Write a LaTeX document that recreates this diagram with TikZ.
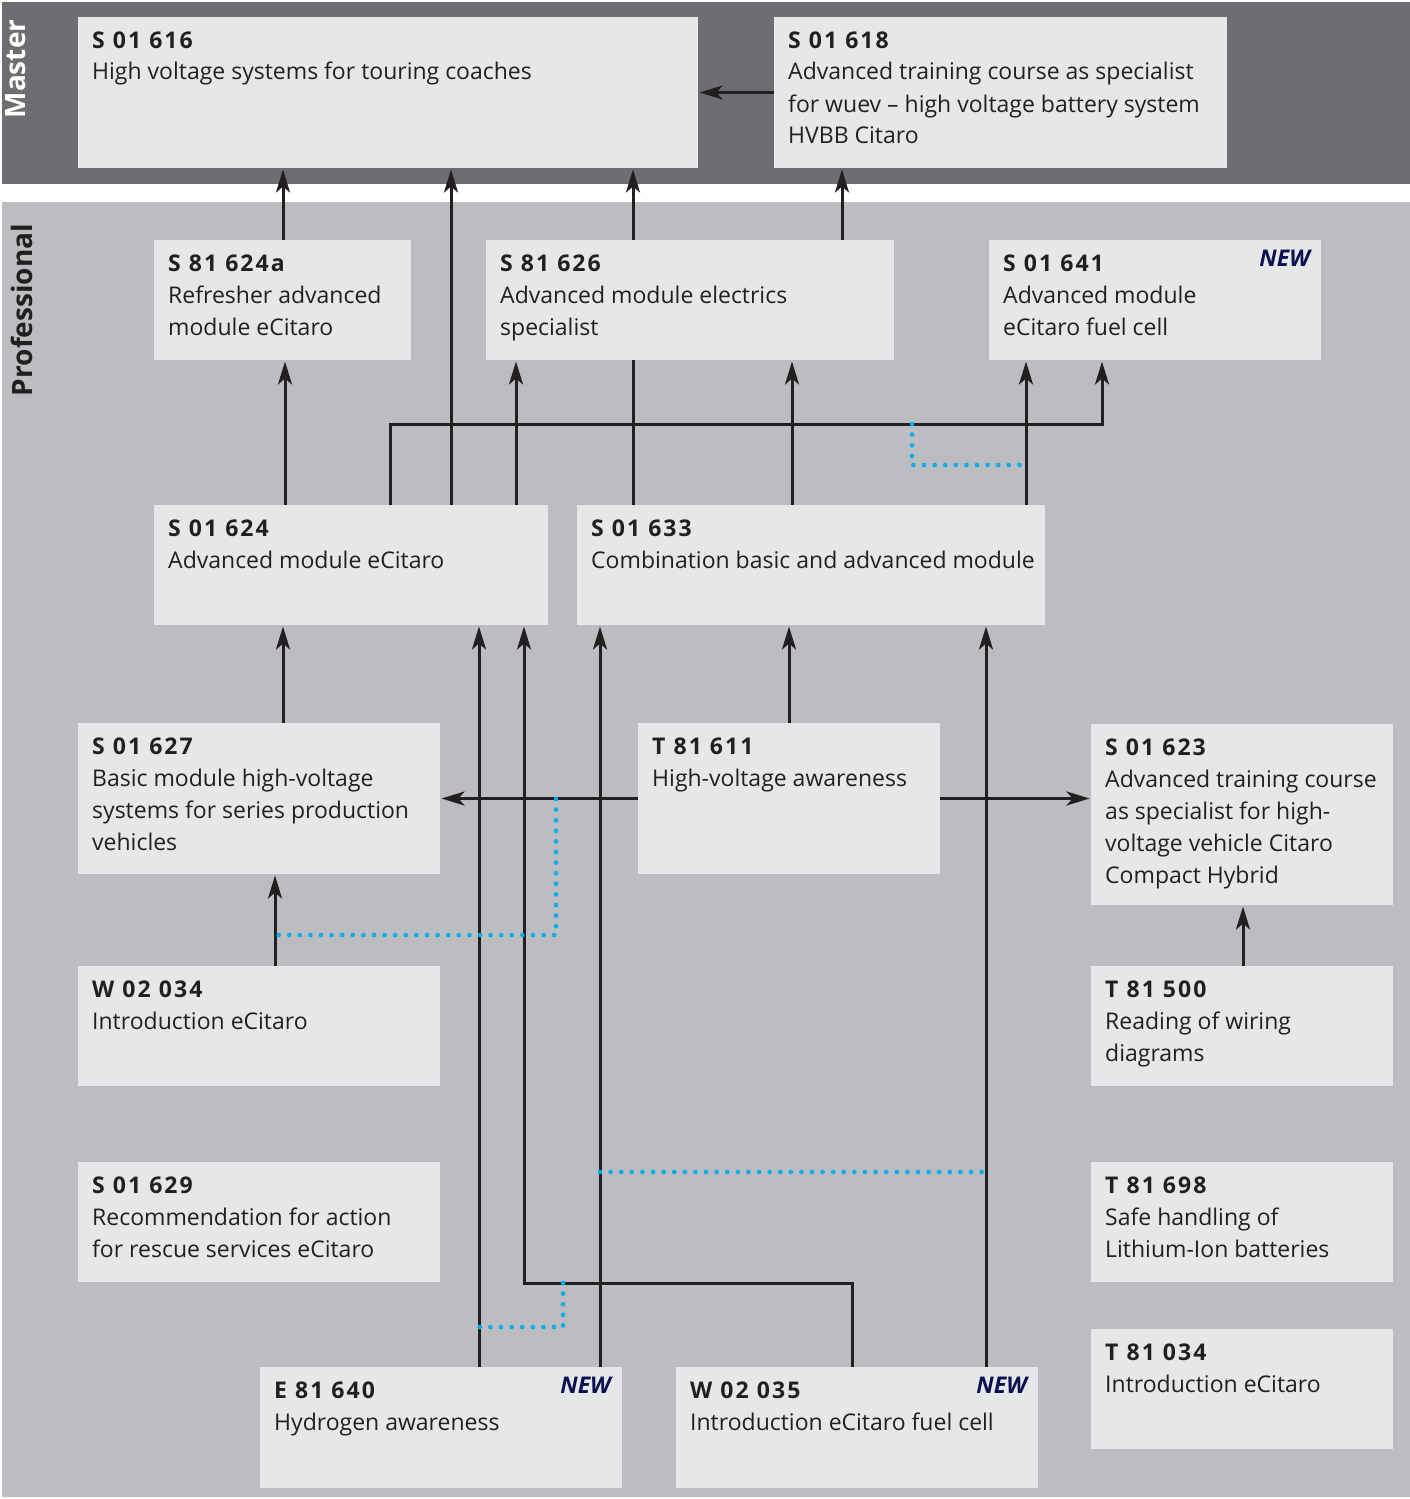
\documentclass[tikz,border=0pt]{standalone}
\usepackage{fontspec}
\setmainfont{Open Sans}
\usetikzlibrary{arrows.meta}
\definecolor{masterc}{HTML}{6D6E71}
\definecolor{profc}{HTML}{BCBDC1}
\definecolor{boxc}{HTML}{E6E7E8}
\definecolor{inkc}{HTML}{231F20}
\definecolor{dotc}{HTML}{00AEEF}
\definecolor{newc}{HTML}{0B1150}
\pgfdeclarelayer{bands}
\pgfdeclarelayer{links}
\pgfsetlayers{bands,links,main}
\newcommand\course[2]{\vtop{\hsize=520pt\parindent=0pt\baselineskip=32pt\raggedright{\bfseries\addfontfeatures{LetterSpace=9}#1}\\#2}}
\newcommand\cbx[5]{\node[cbox, minimum width=#4pt, minimum height=#5pt] (#1) at (#2,#3) {};}
\newcommand\ctx[3]{\node[ctext] (#1-t) at ([xshift=14pt,yshift=-31pt]#1.north west) {\course{#2}{#3}};}
\newcommand\newmark[1]{\node[newtag] (#1-n) at ([xshift=-11pt,yshift=-26pt]#1.north east) {NEW};}
\tikzset{
 cbox/.style={fill=boxc, draw=none, inner sep=0pt, outer sep=0pt, anchor=north west},
 ctext/.style={anchor=base west, inner sep=0pt, text=inkc, font=\fontsize{23}{32}\selectfont},
 newtag/.style={anchor=base east, inner sep=0pt, text=newc, font=\fontsize{23}{28}\selectfont\bfseries\itshape},
 link/.style={draw=inkc, line width=3pt},
 arr/.style={link, -{Stealth[length=23pt,width=14pt,inset=6pt]}, shorten >=1.5pt},
 dots/.style={draw=dotc, line width=4.6pt, line cap=round, dash pattern=on 0pt off 10.6pt},
 band label/.style={rotate=90, anchor=base, inner sep=0pt, font=\fontsize{28}{30}\selectfont\bfseries},
}
\begin{document}
\begin{tikzpicture}[x=1pt,y=-1pt]
\useasboundingbox (0,0) rectangle (1410,1499);
\begin{pgfonlayer}{bands}
\fill[white] (0,0) rectangle (1410,1499);
\fill[masterc] (2,2) rectangle (1410,184);
\fill[profc] (2,202) rectangle (1410,1497);
\end{pgfonlayer}
\node[band label, text=white] (mlabel) at (25,69) {Master};
\node[band label, text=inkc] (plabel) at (32,310) {Professional};
% boxes
\cbx{s616}{78}{17}{620}{151}
\cbx{s618}{774}{17}{453}{151}
\cbx{s624a}{154}{240}{257}{120}
\cbx{s626}{486}{240}{408}{120}
\cbx{s641}{989}{240}{332}{120}
\cbx{s624}{154}{505}{394}{120}
\cbx{s633}{577}{505}{468}{120}
\cbx{s627}{78}{723}{362}{151}
\cbx{t611}{638}{723}{302}{151}
\cbx{s623}{1091}{724}{302}{181}
\cbx{w034}{78}{966}{362}{120}
\cbx{t500}{1091}{966}{302}{120}
\cbx{s629}{78}{1162}{362}{120}
\cbx{t698}{1091}{1162}{302}{120}
\cbx{t034}{1091}{1329}{302}{120}
\cbx{e640}{260}{1367}{362}{121}
\cbx{w035}{676}{1367}{362}{121}
% texts
\ctx{s616}{S 01 616}{High voltage systems for touring coaches}
\ctx{s618}{S 01 618}{Advanced training course as specialist\\for wuev – high voltage battery system\\HVBB Citaro}
\ctx{s624a}{S 81 624a}{Refresher advanced\\module eCitaro}
\ctx{s626}{S 81 626}{Advanced module electrics\\specialist}
\ctx{s641}{S 01 641}{Advanced module\\eCitaro fuel cell}
\ctx{s624}{S 01 624}{Advanced module eCitaro}
\ctx{s633}{S 01 633}{Combination basic and advanced module}
\ctx{s627}{S 01 627}{Basic module high-voltage\\systems for series production\\vehicles}
\ctx{t611}{T 81 611}{High-voltage awareness}
\ctx{s623}{S 01 623}{Advanced training course\\as specialist for high-\\voltage vehicle Citaro\\Compact Hybrid}
\ctx{w034}{W 02 034}{Introduction eCitaro}
\ctx{t500}{T 81 500}{Reading of wiring\\diagrams}
\ctx{s629}{S 01 629}{Recommendation for action\\for rescue services eCitaro}
\ctx{t698}{T 81 698}{Safe handling of\\Lithium-Ion batteries}
\ctx{t034}{T 81 034}{Introduction eCitaro}
\ctx{e640}{E 81 640}{Hydrogen awareness}
\ctx{w035}{W 02 035}{Introduction eCitaro fuel cell}
\newmark{s641}
\newmark{e640}
\newmark{w035}
% junction coordinates
\coordinate (j1) at (1102,424);
\coordinate (j2) at (524,1283);
\coordinate (d1) at (912,424);
\coordinate (d2) at (912,465);
\coordinate (d3) at (1026,465);
\coordinate (d4) at (556,799);
\coordinate (d5) at (556,935);
\coordinate (d6) at (275,935);
\coordinate (d7) at (600,1172);
\coordinate (d8) at (988,1172);
\coordinate (d9) at (563,1283);
\coordinate (d10) at (563,1327);
\coordinate (d11) at (479,1327);
\begin{pgfonlayer}{links}
\draw[arr] (s618.west) -- (s616.east |- s618.west);
\draw[arr] (s624a.north -| 283,0) -- (s616.south -| 283,0);
\draw[arr] (s624.north -| 451,0) -- (s616.south -| 451,0);
\draw[arr] (s633.north -| 633,0) -- (s616.south -| 633,0);
\draw[arr] (s626.north -| 842,0) -- (s618.south -| 842,0);
\draw[arr] (s624.north -| 285,0) -- (s624a.south -| 285,0);
\draw[arr] (s624.north -| 516,0) -- (s626.south -| 516,0);
\draw[arr] (s624.north -| 390,0) |- (j1) -- (s641.south -| j1);
\draw[arr] (s633.north -| 792,0) -- (s626.south -| 792,0);
\draw[arr] (s633.north -| 1026,0) -- (s641.south -| 1026,0);
\draw[arr] (s627.north -| 283,0) -- (s624.south -| 283,0);
\draw[arr] (e640.north -| 479,0) -- (s624.south -| 479,0);
\draw[arr] (w035.north -| 852,0) |- (j2) -- (s624.south -| j2);
\draw[arr] (e640.north -| 600,0) -- (s633.south -| 600,0);
\draw[arr] (t611.north -| 789,0) -- (s633.south -| 789,0);
\draw[arr] (w035.north -| 986,0) -- (s633.south -| 986,0);
\draw[arr] (t611.west) -- (s627.east |- t611.west);
\draw[arr] (t611.east) -- (s623.west |- t611.east);
\draw[arr] (w034.north -| 275,0) -- (s627.south -| 275,0);
\draw[arr] (t500.north -| 1243,0) -- (s623.south -| 1243,0);
\draw[dots] (d1) -- (d2) -- (d3);
\draw[dots] (d4) -- (d5) -- (d6);
\draw[dots] (d7) -- (d8);
\draw[dots] (d9) -- (d10) -- (d11);
\end{pgfonlayer}
\end{tikzpicture}
\end{document}
